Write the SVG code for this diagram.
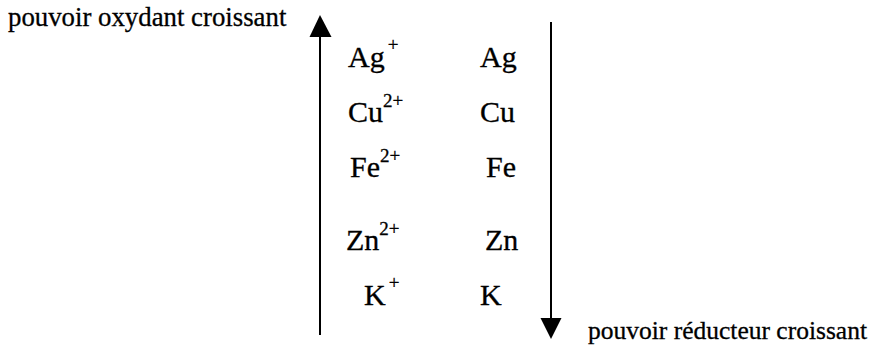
<svg xmlns="http://www.w3.org/2000/svg" width="878" height="348" viewBox="0 0 878 348">
<style>
text { font-family: "Liberation Serif", "Times New Roman", serif; fill: #000; stroke: #000; stroke-width: 0.3; }
.sp { font-size: 30px; }
.sup { font-size: 19px; }
.cap { font-size: 26.8px; }
.cap2 { font-size: 25.5px; }
.axis { stroke: #000; stroke-width: 2; fill: none; }
.head { fill: #000; stroke: none; }
</style>
<rect width="878" height="348" fill="#fff"/>
<g id="connectors">
  <line class="axis" x1="320" y1="335" x2="320" y2="34"/>
  <polygon class="head" points="320,15 309.5,37 331.5,37"/>
  <line class="axis" x1="551" y1="22" x2="551" y2="320"/>
  <polygon class="head" points="540.5,318 561.5,318 551,339"/>
</g>
<g id="label-oxydant"><text class="cap" x="8" y="26">pouvoir oxydant croissant</text></g>
<g id="label-reducteur"><text class="cap2" x="588" y="339">pouvoir réducteur croissant</text></g>
<g id="ox-Ag"><text class="sp" x="348" y="67">Ag<tspan class="sup" dx="3" dy="-16">+</tspan></text></g>
<g id="ox-Cu"><text class="sp" x="348" y="122">Cu<tspan class="sup" dx="0" dy="-15">2+</tspan></text></g>
<g id="ox-Fe"><text class="sp" x="350" y="177">Fe<tspan class="sup" dx="0" dy="-15">2+</tspan></text></g>
<g id="ox-Zn"><text class="sp" x="346" y="250">Zn<tspan class="sup" dx="0" dy="-15">2+</tspan></text></g>
<g id="ox-K"><text class="sp" x="364" y="305">K<tspan class="sup" dx="3" dy="-16">+</tspan></text></g>
<g id="red-Ag"><text class="sp" x="480" y="67">Ag</text></g>
<g id="red-Cu"><text class="sp" x="480" y="122">Cu</text></g>
<g id="red-Fe"><text class="sp" x="486" y="177">Fe</text></g>
<g id="red-Zn"><text class="sp" x="485" y="250">Zn</text></g>
<g id="red-K"><text class="sp" x="480" y="305">K</text></g>
</svg>
